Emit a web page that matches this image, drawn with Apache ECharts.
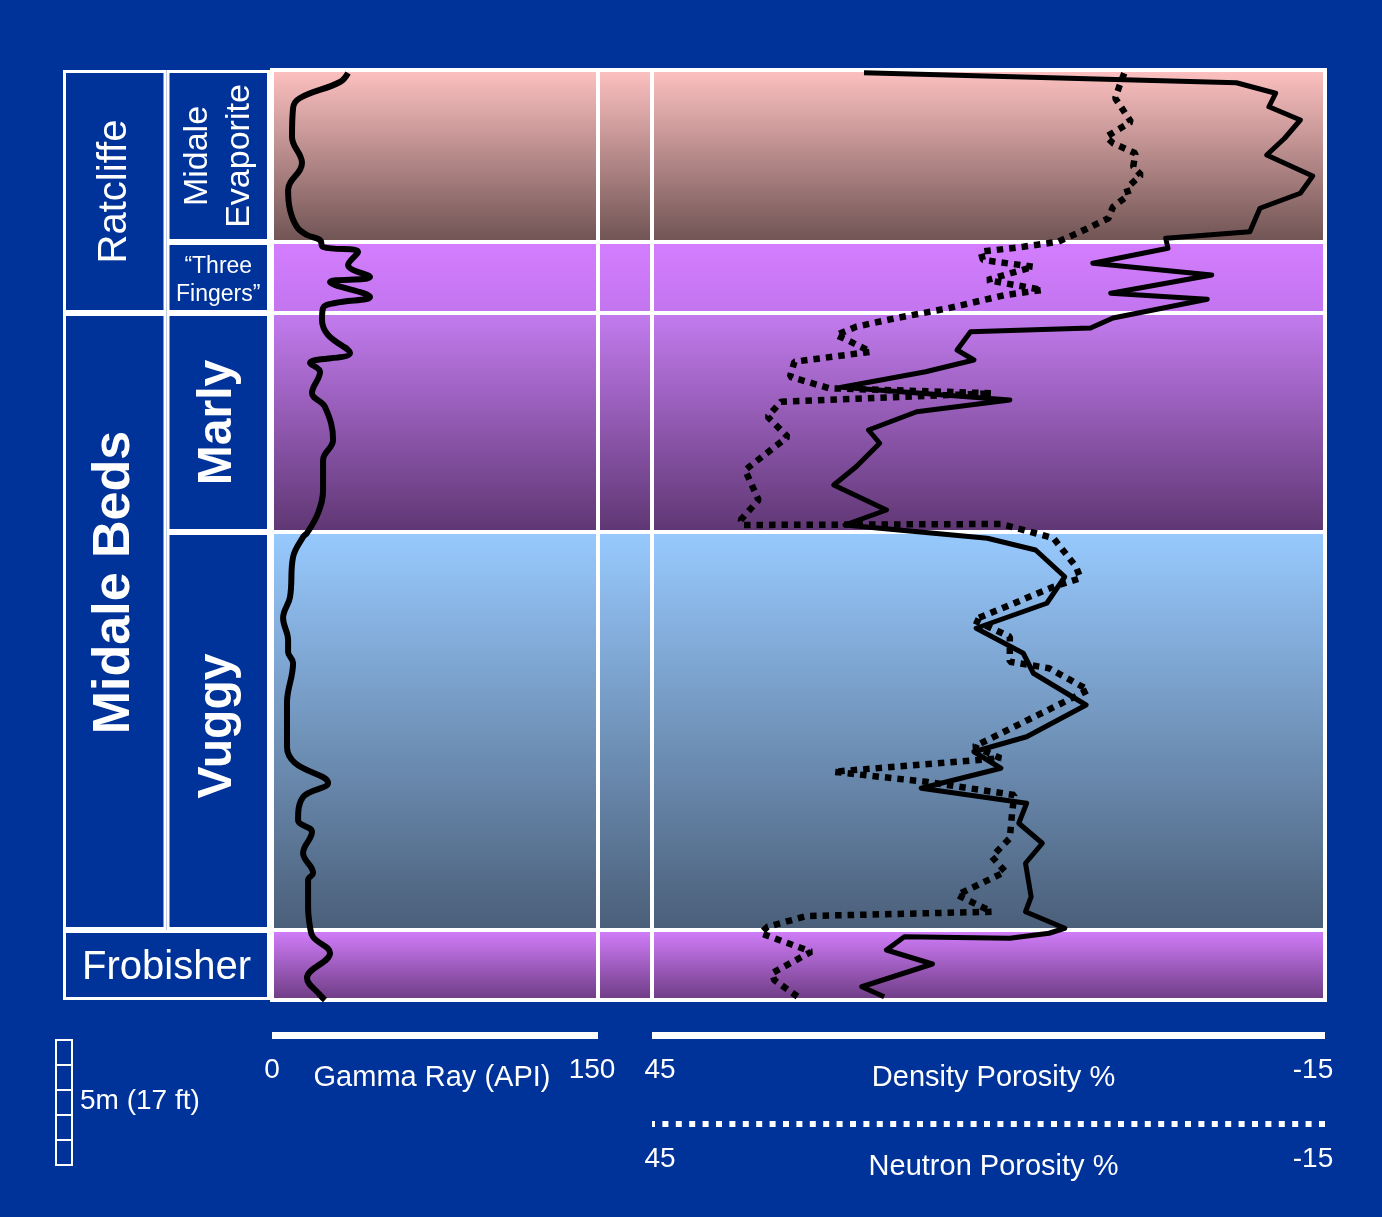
<!DOCTYPE html>
<html>
<head>
<meta charset="utf-8">
<title>Midale log</title>
<script src="https://cdn.jsdelivr.net/npm/echarts@6/dist/echarts.min.js"></script>
<style>
  html, body { margin: 0; padding: 0; background: #003399; }
  #chart { width: 1382px; height: 1217px; }
</style>
</head>
<body>
<div id="chart"></div>
<script>
// depths are metres below the top of the log
var zoneNames = ['Midale Evaporite', '“Three Fingers”', 'Marly', 'Vuggy', 'Frobisher']
var zoneTop = [0, 6.88, 9.72, 18.48, 34.4]
var zoneBase = [6.88, 9.72, 18.48, 34.4, 37.2]
var zoneColorTop = ['#ffc2c2', '#d47eff', '#c47cf0', '#98caff', '#d680ff']
var zoneColorBase = ['#6e5252', '#c274ee', '#5e3672', '#4a5e78', '#6a3a80']

var formationNames = ['Ratcliffe', 'Midale Beds', 'Frobisher']
var formationTop = [0, 9.72, 34.4]
var formationBase = [9.72, 34.4, 37.2]
var memberNames = ['Midale\nEvaporite', '“Three\nFingers”', 'Marly', 'Vuggy']

// gamma ray (API)
var gammaDepth = [0.12, 0.48, 1.12, 1.52, 2.68, 3.72, 4.8, 5.6, 6.28, 6.6,
  6.8, 7.08, 7.28, 7.8, 8.28, 8.48, 9.08, 9.32, 9.52, 10.0,
  10.6, 11.32, 11.72, 12.08, 12.92, 13.48, 14.8, 15.6, 16.8, 17.72,
  18.52, 18.68, 19.48, 21.08, 21.92, 22.8, 23.28, 23.72, 25.32, 27.08,
  27.72, 28.52, 29.08, 30.0, 30.48, 31.32, 32.12, 32.4, 33.48, 34.28,
  34.68, 35.32, 36.32, 37.0, 37.2]
var gammaApi = [35.0, 31.3, 12.9, 9.7, 9.2, 13.8, 7.4, 8.3, 11.5, 16.1,
  22.1, 23.5, 39.6, 35.0, 45.1, 26.7, 45.1, 29.0, 23.5, 23.0,
  25.8, 35.9, 17.5, 22.1, 18.4, 24.4, 28.1, 23.5, 23.5, 21.2,
  16.1, 14.3, 9.7, 8.3, 5.1, 7.4, 7.4, 9.7, 6.9, 6.9,
  10.6, 25.8, 14.3, 12.0, 18.4, 14.3, 18.9, 16.6, 16.6, 17.5,
  18.9, 26.7, 16.1, 22.1, 24.4]

// density porosity %
var densityDepth = [0.11, 0.51, 0.93, 1.47, 2.0, 2.73, 3.4, 4.24, 4.93, 5.53,
  6.47, 6.73, 7.13, 7.73, 8.2, 8.93, 9.17, 9.92, 10.32, 10.47,
  11.2, 11.6, 12.07, 12.69, 13.2, 13.67, 14.4, 14.93, 15.87, 16.6,
  17.6, 18.2, 18.73, 19.2, 20.27, 21.33, 22.33, 23.33, 24.13, 25.4,
  26.67, 27.27, 27.6, 27.93, 28.73, 29.33, 30.13, 30.93, 31.73, 33.07,
  33.67, 34.33, 34.53, 34.73, 34.67, 35.2, 35.76, 36.67, 37.07]
var densityPor = [26.1, -7.1, -10.6, -10.0, -12.8, -11.4, -9.8, -13.9, -12.8, -9.2,
  -8.3, -0.8, -1.0, 5.7, -4.9, 4.1, -4.5, 3.9, 5.9, 16.6,
  17.8, 16.3, 20.6, 28.1, 13.1, 21.4, 25.7, 24.7, 26.8, 28.8,
  24.1, 27.8, 15.1, 10.8, 8.2, 9.8, 16.1, 11.9, 11.0, 6.3,
  11.6, 16.3, 15.1, 13.9, 21.0, 11.6, 12.3, 10.2, 11.7, 11.2,
  11.7, 8.2, 9.6, 13.1, 22.5, 24.1, 20.0, 26.3, 24.3]

// neutron porosity %
var neutronDepth = [0.13, 0.6, 1.13, 2.07, 2.67, 2.93, 3.33, 3.87, 4.2, 4.73,
  5.0, 5.47, 5.93, 6.47, 6.87, 7.07, 7.27, 7.6, 7.87, 8.4,
  8.8, 9.0, 9.53, 9.93, 10.27, 10.6, 10.8, 11.27, 11.67, 12.27,
  12.73, 12.93, 13.27, 13.87, 14.67, 16.0, 17.2, 18.0, 18.2, 18.16,
  18.53, 18.73, 19.87, 20.33, 20.67, 22.0, 22.67, 23.67, 23.93, 24.8,
  27.07, 27.53, 28.07, 28.47, 29.0, 29.73, 30.73, 31.47, 32.07, 33.0,
  33.67, 33.84, 34.27, 34.53, 35.27, 36.13, 36.4, 37.07]
var neutronPor = [2.9, 3.3, 3.7, 2.3, 4.5, 3.9, 1.9, 2.1, 1.4, 2.7,
  2.5, 3.9, 4.3, 6.8, 8.8, 11.9, 15.7, 15.5, 11.0, 15.1,
  10.2, 13.5, 18.6, 23.3, 26.8, 28.6, 27.6, 25.5, 32.3, 32.7,
  29.2, 14.7, 33.5, 34.7, 32.9, 36.7, 35.5, 37.1, 36.9, 13.9,
  10.8, 9.2, 7.2, 6.8, 9.2, 16.3, 13.1, 13.1, 9.6, 6.1,
  16.3, 13.9, 28.8, 20.6, 12.7, 12.9, 13.1, 14.7, 13.5, 17.8,
  14.7, 31.2, 34.7, 35.3, 30.8, 34.3, 34.1, 32.0]

var scaleMetres = [0, 1, 2, 3, 4]

var BG = '#003399'
var FONT = '"Liberation Sans", Arial, sans-serif'
var TOP = 70
var HEIGHT = 930
var DEPTH_MAX = 37.2

var labelStyle = {
  'Ratcliffe': { size: 40, weight: 'normal', rotate: true, shift: 0 },
  'Midale Beds': { size: 52, weight: 'bold', rotate: true, shift: -39 },
  'Frobisher': { size: 40, weight: 'normal', rotate: false, shift: 3 },
  'Midale\nEvaporite': { size: 34, weight: 'normal', rotate: true, shift: 0, lh: 42 },
  '“Three\nFingers”': { size: 23, weight: 'normal', rotate: false, shift: 3, lh: 28 },
  'Marly': { size: 48, weight: 'bold', rotate: true, shift: 0 },
  'Vuggy': { size: 48, weight: 'bold', rotate: true, shift: -5 }
}

function zip (a, b) {
  return a.map(function (v, i) { return [b[i], v] })
}

// label boxes: formations in column 0 (Frobisher spans both), members in column 1
var boxes = []
formationNames.forEach(function (n, i) {
  boxes.push({ name: n, c0: 0, c1: i === formationNames.length - 1 ? 2 : 1, top: formationTop[i], base: formationBase[i] })
})
memberNames.forEach(function (n, i) {
  boxes.push({ name: n, c0: 1, c1: 2, top: zoneTop[i], base: zoneBase[i] })
})

function renderBox (params, api) {
  var b = boxes[params.dataIndex]
  var s = labelStyle[b.name]
  var p0 = api.coord([b.c0, b.top])
  var p1 = api.coord([b.c1, b.base])
  var x = p0[0] + 1.5
  var y = p0[1] + 1.5
  var w = p1[0] - p0[0] - 3
  var h = p1[1] - p0[1] - 3
  return {
    type: 'group',
    children: [
      { type: 'rect', shape: { x: x, y: y, width: w, height: h }, style: { fill: BG, stroke: '#fff', lineWidth: 3 } },
      {
        type: 'text',
        x: x + w / 2,
        y: y + h / 2 + s.shift,
        rotation: s.rotate ? Math.PI / 2 : 0,
        style: {
          text: b.name,
          fill: '#fff',
          fontSize: s.size,
          fontWeight: s.weight,
          fontFamily: FONT,
          lineHeight: s.lh || s.size,
          align: 'center',
          verticalAlign: 'middle'
        }
      }
    ]
  }
}

function renderZone (params, api) {
  var i = params.dataIndex
  var cs = params.coordSys
  var y0 = api.coord([api.value(0), zoneTop[i]])[1]
  var y1 = api.coord([api.value(0), zoneBase[i]])[1]
  return {
    type: 'rect',
    shape: { x: cs.x, y: y0, width: cs.width, height: y1 - y0 },
    style: {
      fill: new echarts.graphic.LinearGradient(0, 0, 0, 1, [
        { offset: 0, color: zoneColorTop[i] },
        { offset: 1, color: zoneColorBase[i] }
      ]),
      stroke: '#fff',
      lineWidth: 4
    }
  }
}

function renderScale (params, api) {
  var m = api.value(1)
  var p0 = api.coord([0, m])
  var p1 = api.coord([1, m + 1])
  return {
    type: 'rect',
    shape: { x: p0[0], y: p0[1], width: p1[0] - p0[0], height: p1[1] - p0[1] },
    style: { fill: 'none', stroke: '#fff', lineWidth: 2 }
  }
}

function depthAxis (gridIndex, max) {
  return { gridIndex: gridIndex, type: 'value', min: 0, max: max, inverse: true, show: false }
}

function hiddenX (gridIndex, min, max) {
  return { gridIndex: gridIndex, type: 'value', min: min, max: max, show: false }
}

function logAxis (gridIndex, min, max, inverse, offset, lineType, name, rich, namePad) {
  return {
    gridIndex: gridIndex,
    type: 'value',
    position: 'bottom',
    min: min,
    max: max,
    interval: max - min,
    inverse: inverse,
    offset: offset,
    axisLine: {
      show: true,
      onZero: false,
      lineStyle: { color: '#fff', width: lineType === 'solid' ? 7 : 6, type: lineType, cap: 'butt' }
    },
    axisTick: { show: false },
    splitLine: { show: false },
    axisLabel: {
      color: '#fff',
      fontSize: 28,
      fontFamily: FONT,
      margin: 21,
      formatter: function (v) { return '{' + (v === max ? 'mx' : 'mn') + '|' + v + '}' },
      rich: rich
    },
    name: name,
    nameLocation: 'middle',
    nameGap: 28,
    nameMoveOverlap: false,
    nameTextStyle: { color: '#fff', fontSize: 29, fontFamily: FONT, padding: namePad }
  }
}

var txt = { color: '#fff', fontSize: 28, fontFamily: FONT }
var gammaRich = { mn: txt, mx: Object.assign({ padding: [0, 12, 0, 0] }, txt) }
var poroRich = { mx: Object.assign({ padding: [0, 0, 0, 16] }, txt), mn: Object.assign({ padding: [0, 24, 0, 0] }, txt) }

var myChart = echarts.init(document.getElementById('chart'))
myChart.setOption({
  backgroundColor: BG,
  animation: false,
  grid: [
    { left: 63, top: TOP, width: 207, height: HEIGHT },
    { left: 272, top: TOP, width: 326, height: HEIGHT },
    { left: 598, top: TOP, width: 54, height: HEIGHT },
    { left: 652, top: TOP, width: 673, height: HEIGHT },
    { left: 56, top: 1040, width: 16, height: 125 }
  ],
  xAxis: [
    hiddenX(0, 0, 2),
    logAxis(1, 0, 150, false, 35.5, 'solid', 'Gamma Ray (API)', gammaRich, [0, 6, 0, 0]),
    hiddenX(2, 0, 1),
    logAxis(3, -15, 45, true, 35.5, 'solid', 'Density Porosity %', poroRich, [0, 0, 0, 10]),
    logAxis(3, -15, 45, true, 124, [6, 7.4], 'Neutron Porosity %', poroRich, [0, 0, 0, 10]),
    hiddenX(4, 0, 1)
  ],
  yAxis: [
    depthAxis(0, DEPTH_MAX),
    depthAxis(1, DEPTH_MAX),
    depthAxis(2, DEPTH_MAX),
    depthAxis(3, DEPTH_MAX),
    depthAxis(4, 5)
  ],
  graphic: [
    {
      type: 'text',
      x: 80,
      y: 1101,
      style: { text: '5m (17 ft)', fill: '#fff', fontSize: 28, fontFamily: FONT, verticalAlign: 'middle' }
    }
  ],
  series: [
    {
      type: 'custom',
      xAxisIndex: 0,
      yAxisIndex: 0,
      renderItem: renderBox,
      data: boxes.map(function (b) { return [b.c0, b.top] }),
      z: 1
    },
    {
      type: 'custom',
      xAxisIndex: 1,
      yAxisIndex: 1,
      renderItem: renderZone,
      data: zoneTop.map(function (t) { return [0, t] }),
      z: 1
    },
    {
      type: 'custom',
      xAxisIndex: 2,
      yAxisIndex: 2,
      renderItem: renderZone,
      data: zoneTop.map(function (t) { return [0, t] }),
      z: 1
    },
    {
      type: 'custom',
      xAxisIndex: 3,
      yAxisIndex: 3,
      renderItem: renderZone,
      data: zoneTop.map(function (t) { return [0, t] }),
      z: 1
    },
    {
      name: 'Gamma Ray',
      type: 'line',
      xAxisIndex: 1,
      yAxisIndex: 1,
      data: zip(gammaDepth, gammaApi),
      smooth: 0.4,
      symbol: 'none',
      lineStyle: { color: '#000', width: 6 },
      z: 3
    },
    {
      name: 'Density Porosity',
      type: 'line',
      xAxisIndex: 3,
      yAxisIndex: 3,
      data: zip(densityDepth, densityPor),
      symbol: 'none',
      lineStyle: { color: '#000', width: 5, join: 'round' },
      z: 3
    },
    {
      name: 'Neutron Porosity',
      type: 'line',
      xAxisIndex: 4,
      yAxisIndex: 3,
      data: zip(neutronDepth, neutronPor),
      symbol: 'none',
      lineStyle: { color: '#000', width: 6.5, type: [6.5, 6], cap: 'butt' },
      z: 3
    },
    {
      type: 'custom',
      xAxisIndex: 5,
      yAxisIndex: 4,
      renderItem: renderScale,
      data: scaleMetres.map(function (m) { return [0, m] }),
      z: 1
    }
  ]
})
</script>
</body>
</html>
